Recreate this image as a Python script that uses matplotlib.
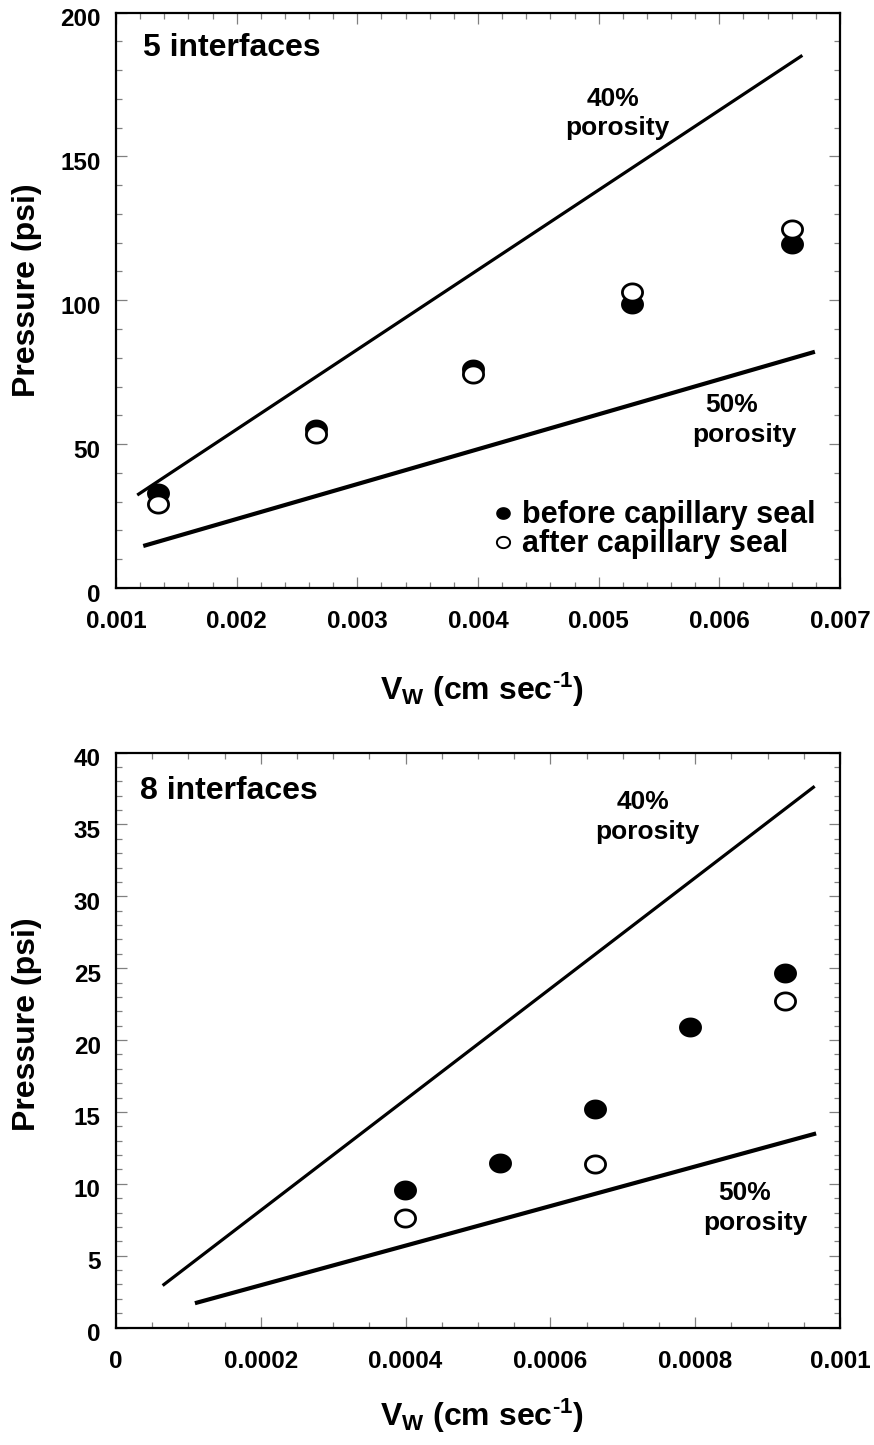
import numpy as np
import matplotlib
matplotlib.use("Agg")
import matplotlib.pyplot as plt
from matplotlib.path import Path
from matplotlib.ticker import MultipleLocator, FuncFormatter
from matplotlib.transforms import ScaledTranslation

plt.rcParams['font.family'] = ['Liberation Sans', 'DejaVu Sans']
plt.rcParams['font.weight'] = 'bold'
plt.rcParams['mathtext.fontset'] = 'custom'
plt.rcParams['mathtext.rm'] = 'Liberation Sans:bold'
plt.rcParams['mathtext.it'] = 'Liberation Sans:bold'
plt.rcParams['mathtext.bf'] = 'Liberation Sans:bold'
plt.rcParams['mathtext.default'] = 'rm'

# ---------------- data: 5 interfaces ----------------
vw5 = [0.001352, 0.00266, 0.00396, 0.00528, 0.0066]
before5 = [33.0, 55.4, 76.2, 98.8, 119.5]
after5 = [29.2, 53.6, 74.5, 102.8, 124.9]
line40_5_x = [0.001176, 0.006688]
line40_5_y = [32.3, 185.1]
line50_5_x = [0.001226, 0.006792]
line50_5_y = [14.6, 82.1]

# ---------------- data: 8 interfaces ----------------
vw8_before = [0.000399, 0.000531, 0.000662, 0.000793, 0.000924]
before8 = [9.55, 11.42, 15.22, 20.88, 24.65]
vw8_after = [0.000399, 0.000662, 0.000924]
after8 = [7.59, 11.36, 22.69]
line40_8_x = [0.0000644, 0.000965]
line40_8_y = [2.92, 37.65]
line50_8_x = [0.000109, 0.000967]
line50_8_y = [1.69, 13.5]

xticks5 = [0.001, 0.002, 0.003, 0.004, 0.005, 0.006, 0.007]
yticks5 = [0, 50, 100, 150, 200]
xticks8 = [0, 0.0002, 0.0004, 0.0006, 0.0008, 0.001]
yticks8 = [0, 5, 10, 15, 20, 25, 30, 35, 40]

# slightly wide ellipse marker (reference is horizontally stretched)
th = np.linspace(0, 2 * np.pi, 65)
ell = Path(np.column_stack([1.17 * np.cos(th), np.sin(th)]), closed=True)

W, H = 874, 1445
fig = plt.figure(figsize=(W / 100, H / 100), dpi=100)


def axrect(l, r, t, b):
    return [l / W, 1 - b / H, (r - l) / W, (b - t) / H]


ax1 = fig.add_axes(axrect(116, 840, 12.5, 588))
ax2 = fig.add_axes(axrect(116, 840, 752.5, 1327.5))


def fmt(v, pos):
    s = ('%.4f' % v).rstrip('0').rstrip('.')
    return s


XLABEL = 'V$_{\\mathregular{W}}$ (cm sec$^{\\mathregular{\u2010}1}$)'


def style(ax, xticks, yticks, xminor, yminor):
    ax.set_xticks(xticks)
    ax.set_yticks(yticks)
    ax.xaxis.set_minor_locator(MultipleLocator(xminor))
    ax.yaxis.set_minor_locator(MultipleLocator(yminor))
    ax.xaxis.set_major_formatter(FuncFormatter(fmt))
    ax.yaxis.set_major_formatter(FuncFormatter(fmt))
    ax.tick_params(which='both', direction='in', top=True, right=True,
                   color='#808080', width=0.9)
    ax.tick_params(which='major', length=8)
    ax.tick_params(which='minor', length=4)
    ax.tick_params(axis='x', which='major', pad=16, labelsize=17.5)
    ax.tick_params(axis='y', which='major', pad=11, labelsize=17.5)
    for sp in ax.spines.values():
        sp.set_linewidth(1.6)
    off = ScaledTranslation(0, -4.5 / 100, fig.dpi_scale_trans)
    for lab in ax.get_yticklabels():
        lab.set_transform(lab.get_transform() + off)
    ax.set_ylabel('Pressure (psi)', fontsize=23, fontweight='bold', va='center')
    ax.set_xlabel(XLABEL, fontsize=23, fontweight='bold', va='center')


# ---------------- top panel ----------------
ax1.set_xlim(0.001, 0.007)
ax1.set_ylim(0, 200)
ax1.plot(line40_5_x, line40_5_y, color='black', lw=2.3, solid_capstyle='butt')
ax1.plot(line50_5_x, line50_5_y, color='black', lw=3.0, solid_capstyle='butt')
ax1.plot(vw5, before5, ls='none', marker=ell, ms=15, mfc='black', mec='black', mew=1.5)
ax1.plot(vw5, after5, ls='none', marker=ell, ms=14.5, mfc='white', mec='black', mew=2.0)
style(ax1, xticks5, yticks5, 0.0002, 10)
ax1.text(0.037, 0.9375, '5 interfaces', transform=ax1.transAxes, fontsize=23,
         fontweight='bold', ha='left', va='center')
ax1.text(0.686, 0.849, '40%', transform=ax1.transAxes, fontsize=19, ha='center', va='center')
ax1.text(0.692, 0.799, 'porosity', transform=ax1.transAxes, fontsize=19, ha='center', va='center')
ax1.text(0.850, 0.318, '50%', transform=ax1.transAxes, fontsize=19, ha='center', va='center')
ax1.text(0.868, 0.266, 'porosity', transform=ax1.transAxes, fontsize=19, ha='center', va='center')
# legend
ax1.plot([0.534], [0.130], transform=ax1.transAxes, marker=ell, ms=9.5, mfc='black',
         mec='black', mew=1.0, ls='none')
ax1.plot([0.534], [0.080], transform=ax1.transAxes, marker=ell, ms=9.5, mfc='white',
         mec='black', mew=1.4, ls='none')
ax1.text(0.561, 0.127, 'before capillary seal', transform=ax1.transAxes, fontsize=22,
         ha='left', va='center')
ax1.text(0.561, 0.077, 'after capillary seal', transform=ax1.transAxes, fontsize=22,
         ha='left', va='center')
ax1.yaxis.set_label_coords(-0.123, 0.517)
ax1.xaxis.set_label_coords(0.505, -0.177)

# ---------------- bottom panel ----------------
ax2.set_xlim(0, 0.001)
ax2.set_ylim(0, 40)
ax2.plot(line40_8_x, line40_8_y, color='black', lw=2.3, solid_capstyle='butt')
ax2.plot(line50_8_x, line50_8_y, color='black', lw=3.0, solid_capstyle='butt')
ax2.plot(vw8_before, before8, ls='none', marker=ell, ms=15, mfc='black', mec='black', mew=1.5)
ax2.plot(vw8_after, after8, ls='none', marker=ell, ms=14.5, mfc='white', mec='black', mew=2.0)
style(ax2, xticks8, yticks8, 0.00005, 1)
ax2.text(0.033, 0.933, '8 interfaces', transform=ax2.transAxes, fontsize=23,
         fontweight='bold', ha='left', va='center')
ax2.text(0.728, 0.9135, '40%', transform=ax2.transAxes, fontsize=19, ha='center', va='center')
ax2.text(0.734, 0.861, 'porosity', transform=ax2.transAxes, fontsize=19, ha='center', va='center')
ax2.text(0.868, 0.234, '50%', transform=ax2.transAxes, fontsize=19, ha='center', va='center')
ax2.text(0.883, 0.182, 'porosity', transform=ax2.transAxes, fontsize=19, ha='center', va='center')
ax2.yaxis.set_label_coords(-0.123, 0.527)
ax2.xaxis.set_label_coords(0.505, -0.154)

fig.savefig('out.png', dpi=100)
